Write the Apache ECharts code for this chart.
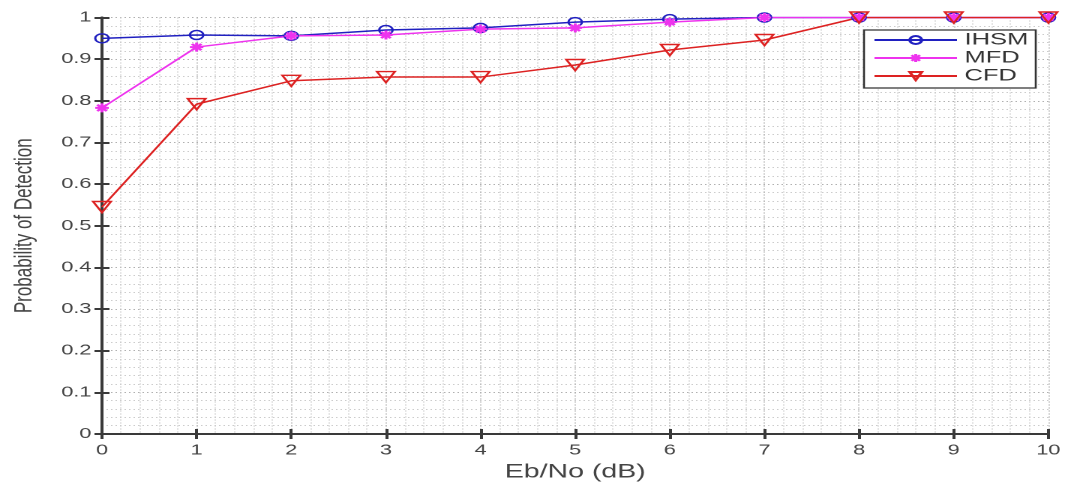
<!DOCTYPE html>
<html><head><meta charset="utf-8">
<script src="https://cdn.jsdelivr.net/npm/echarts@6/dist/echarts.min.js"></script>
<style>
html,body{margin:0;padding:0;background:#fff;overflow:hidden;width:1065px;height:487px}
#c{width:710px;height:487px;transform:scaleX(1.5);transform-origin:0 0}
</style>
</head><body><div id="c"></div>
<script>
const ebno = [0,1,2,3,4,5,6,7,8,9,10];
const ihsm = [0.950,0.958,0.956,0.970,0.975,0.989,0.996,1.000,1.000,1.000,1.000];
const mfd  = [0.783,0.929,0.956,0.958,0.972,0.975,0.989,1.000,1.000,1.000,1.000];
const cfd  = [0.545,0.792,0.848,0.857,0.857,0.886,0.922,0.946,1.000,1.000,1.000];
const yTicks = [0,0.1,0.2,0.3,0.4,0.5,0.6,0.7,0.8,0.9,1];

const pair = (xs, ys) => xs.map((x,i)=>[x,ys[i]]);
const star = 'path://M0,-10L0,10M-10,0L10,0M-7,-7L7,7M-7,7L7,-7';
const tri = 'path://M-10,-8L10,-8L0,9Z';
const axisColor = '#3a3a3a';
const font = 'Liberation Sans, Arial, sans-serif';
const gridLine = {show:true,lineStyle:{color:'#b0b0b0',type:[1,2],width:1}};
const minorLine = {show:true,lineStyle:{color:'#cccccc',type:[1,2],width:1}};
const labelFont = {color:'#444',fontSize:14.5,fontFamily:font};
const tick = {show:true,inside:false,length:-5,lineStyle:{color:axisColor,width:2}};

const chart = echarts.init(document.getElementById('c'), null, {devicePixelRatio:2});
chart.setOption({
  animation:false,
  backgroundColor:'#fff',
  grid:{left:65.5,right:9.3,top:17.5,bottom:53,show:false},
  legend:{
    left:576,top:30,orient:'vertical',
    backgroundColor:'#fff',borderColor:'#333',borderWidth:1.3,
    padding:[1,5,3,6],itemGap:0,itemWidth:55,itemHeight:10,
    textStyle:{fontSize:17,lineHeight:18,color:'#333',fontFamily:font},
    data:['IHSM','MFD','CFD']
  },
  xAxis:[{
    type:'value',min:0,max:10,interval:1,
    name:'Eb/No (dB)',nameLocation:'middle',nameGap:24,
    nameTextStyle:{fontSize:19,color:'#444',fontFamily:font},
    axisLine:{show:true,onZero:false,lineStyle:{color:axisColor,width:2}},
    axisTick:tick,
    axisLabel:Object.assign({margin:9},labelFont),
    splitLine:gridLine,
    minorTick:{show:false,splitNumber:5},
    minorSplitLine:minorLine
  },{
    type:'value',min:0,max:10,interval:1,position:'top',
    axisLine:{show:true,lineStyle:{color:axisColor,width:2}},
    axisTick:tick,
    axisLabel:{show:false},splitLine:{show:false}
  }],
  yAxis:[{
    type:'value',min:0,max:1,interval:0.1,
    name:'Probability of Detection',nameLocation:'middle',nameGap:43,
    nameTextStyle:{fontSize:17,color:'#444',fontFamily:font},
    axisLine:{show:true,onZero:false,lineStyle:{color:axisColor,width:2}},
    axisTick:tick,
    axisLabel:Object.assign({margin:7,formatter:v=>{const t=yTicks.find(x=>Math.abs(x-v)<1e-9);return t===undefined?'':String(t);}},labelFont),
    splitLine:gridLine,
    minorTick:{show:false,splitNumber:5},
    minorSplitLine:minorLine
  },{
    type:'value',min:0,max:1,interval:0.1,position:'right',
    axisLine:{show:true,lineStyle:{color:axisColor,width:2}},
    axisTick:tick,
    axisLabel:{show:false},splitLine:{show:false}
  }],
  series:[
    {name:'IHSM',type:'line',data:pair(ebno,ihsm),symbol:'circle',symbolSize:9,
     lineStyle:{color:'#2020c0',width:1.5},
     itemStyle:{color:'rgba(255,255,255,0)',borderColor:'#2020c0',borderWidth:1.5}},
    {name:'MFD',type:'line',data:pair(ebno,mfd),symbol:star,symbolSize:9,
     lineStyle:{color:'#ee33ee',width:1.5},
     itemStyle:{color:'#ee33ee',borderColor:'#ee33ee',borderWidth:2}},
    {name:'CFD',type:'line',data:pair(ebno,cfd),symbol:tri,symbolSize:[12,11],
     lineStyle:{color:'#dd2222',width:1.5},
     itemStyle:{color:'rgba(255,255,255,0)',borderColor:'#dd2222',borderWidth:1.5}}
  ]
});
</script></body></html>
